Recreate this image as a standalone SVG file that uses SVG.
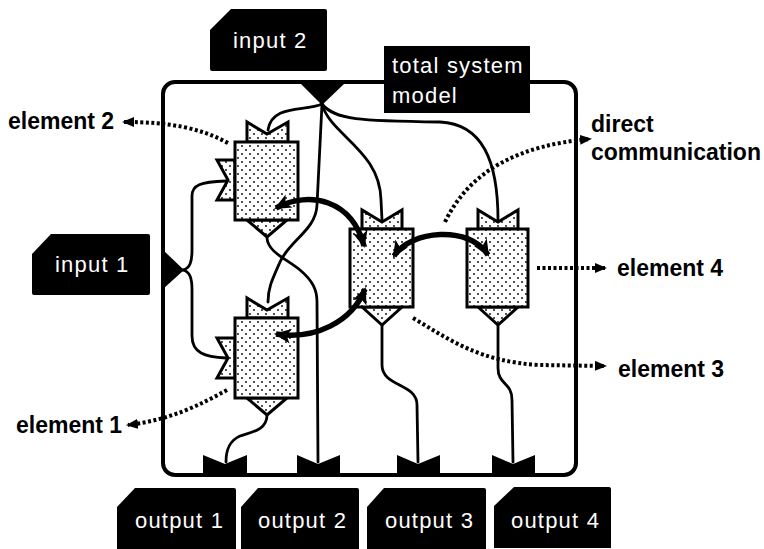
<svg xmlns="http://www.w3.org/2000/svg" width="764" height="549" viewBox="0 0 764 549">
<defs>
  <pattern id="dots" width="8" height="8" patternUnits="userSpaceOnUse">
    <rect width="8" height="8" fill="#fff"/>
    <circle cx="2" cy="2" r="0.9" fill="#000"/>
    <circle cx="6" cy="6" r="0.9" fill="#000"/>
  </pattern>
  <marker id="big" viewBox="0 0 16 14" refX="14" refY="7" markerWidth="17" markerHeight="15" markerUnits="userSpaceOnUse" orient="auto-start-reverse">
    <path d="M0,0 L16,7 L0,14 L4,7 Z" fill="#000"/>
  </marker>
  <marker id="small" viewBox="0 0 12 10" refX="10" refY="5" markerWidth="12" markerHeight="10" markerUnits="userSpaceOnUse" orient="auto">
    <path d="M0,0 L12,5 L0,10 Z" fill="#000"/>
  </marker>
</defs>
<style>
  .wire{fill:none;stroke:#000;stroke-width:2.8;stroke-linecap:round}
  .el{fill:url(#dots);stroke:#000;stroke-width:3;stroke-linejoin:miter}
  .port{fill:#000}
  .comm{fill:none;stroke:#000;stroke-width:5.5;marker-start:url(#big);marker-end:url(#big)}
  .dot{fill:none;stroke:#000;stroke-width:4;stroke-dasharray:3 2.5;marker-end:url(#small)}
  .lab{fill:#000}
  .wt{fill:#fff;font-family:"Liberation Sans",Arial,sans-serif;font-size:22px;letter-spacing:1.2px}
  .bt{fill:#000;font-family:"Liberation Sans",Arial,sans-serif;font-size:23px;font-weight:bold}
</style>

<g id="system">
  <rect x="163" y="82" width="413" height="393" rx="12" fill="none" stroke="#000" stroke-width="4"/>
</g>

<g id="connectors">
  <path class="wire" d="M322,104 C305,112 272,104 268,130"/>
  <path class="wire" d="M322,104 L317,205 C316,230 290,240 280,262 C272,280 268,288 268,302"/>
  <path class="wire" d="M267,238 C268,252 285,258 300,270 C313,281 317,290 317,302 L318,462"/>
  <path class="wire" d="M322,104 C330,135 380,150 381,200 L382,220"/>
  <path class="wire" d="M322,104 C335,120 360,121 440,122 C482,124 498,160 498,220"/>
  <path class="wire" d="M183,270 C190,268 192,262 192,250 L192,196 C192,185 200,182 226,181"/>
  <path class="wire" d="M183,270 C190,272 192,278 192,290 L192,336 C192,353 205,357 226,358"/>
  <path class="wire" d="M267,415 C267,430 252,432 240,436 C229,441 226,450 226,462"/>
  <path class="wire" d="M382,325 L382,365 C382,387 417,383 417,405 L418,462"/>
  <path class="wire" d="M498,325 L498,368 C498,385 512,382 512,400 L513,462"/>
</g>

<g id="input2-port"><path class="port" d="M301,84 L344,84 L322,105 Z"/></g>
<g id="input1-port"><path class="port" d="M163,250 L184,270 L163,289 Z"/></g>
<g id="output-ports">
  <path class="port" d="M203,476 L203,455 L225,464 L247,455 L247,476 Z"/>
  <path class="port" d="M297,476 L297,455 L318,464 L340,455 L340,476 Z"/>
  <path class="port" d="M397,476 L397,455 L418,464 L440,455 L440,476 Z"/>
  <path class="port" d="M492,476 L492,455 L513,464 L535,455 L535,476 Z"/>
</g>

<g id="element2">
  <path class="el" d="M247,142 L247,122 L267,134 L288,122 L288,142 Z"/>
  <path class="el" d="M235,160 L217,160 L228,180 L217,200 L235,200 Z"/>
  <path class="el" d="M247,220 L267,237 L287,220 Z"/>
  <rect class="el" x="235" y="142" width="63" height="78"/>
</g>
<g id="element1">
  <path class="el" d="M247,318 L247,298 L267,310 L288,298 L288,318 Z"/>
  <path class="el" d="M235,338 L217,338 L228,358 L217,378 L235,378 Z"/>
  <path class="el" d="M247,398 L267,415 L287,398 Z"/>
  <rect class="el" x="235" y="318" width="63" height="80"/>
</g>
<g id="element3">
  <path class="el" d="M362,229 L362,210 L382,222 L402,210 L402,229 Z"/>
  <path class="el" d="M362,307 L382,325 L402,307 Z"/>
  <rect class="el" x="350" y="229" width="63" height="78"/>
</g>
<g id="element4">
  <path class="el" d="M478,229 L478,210 L498,222 L518,210 L518,229 Z"/>
  <path class="el" d="M478,307 L498,325 L518,307 Z"/>
  <rect class="el" x="467" y="229" width="61" height="78"/>
</g>

<g id="communication">
  <path class="comm" d="M276,208 C310,190 352,200 364,246"/>
  <path class="comm" d="M276,334 C315,340 352,322 365,289"/>
  <path class="comm" d="M394,256 C410,230 470,225 488,255"/>
</g>

<g id="annotations">
  <path class="dot" d="M228,143 C200,128 170,122 124,122"/>
  <path class="dot" d="M227,390 C200,405 170,420 128,425"/>
  <path class="dot" d="M445,222 C470,170 520,145 590,139"/>
  <path class="dot" d="M537,268 L605,268"/>
  <path class="dot" d="M413,318 C450,340 480,362 540,365 L605,366"/>
</g>

<g id="label-input2">
  <path class="lab" d="M210,30 L231,9 L325,9 Q327,9 327,11 L327,69 Q327,71 325,71 L212,71 Q210,71 210,69 Z"/>
  <text class="wt" x="233" y="48">input 2</text>
</g>
<g id="label-total">
  <rect class="lab" x="384" y="46" width="146" height="67"/>
  <text class="wt" x="392" y="73">total system</text>
  <text class="wt" x="392" y="103">model</text>
</g>
<g id="label-input1">
  <path class="lab" d="M32,254 L51,234 L148,234 Q150,234 150,236 L150,293 Q150,295 148,295 L34,295 Q32,295 32,293 Z"/>
  <text class="wt" x="55" y="272">input 1</text>
</g>
<g id="label-output1">
  <path class="lab" d="M117,507 L135,488 L234,488 Q236,488 236,490 L236,549 L117,549 Z"/>
  <text class="wt" x="135" y="528">output 1</text>
</g>
<g id="label-output2">
  <path class="lab" d="M241,507 L258,488 L357,488 Q359,488 359,490 L359,549 L241,549 Z"/>
  <text class="wt" x="258" y="528">output 2</text>
</g>
<g id="label-output3">
  <path class="lab" d="M367,507 L384,488 L484,488 Q486,488 486,490 L486,549 L367,549 Z"/>
  <text class="wt" x="385" y="528">output 3</text>
</g>
<g id="label-output4">
  <path class="lab" d="M494,506 L514,487 L609,487 Q611,487 611,489 L611,548 L494,548 Z"/>
  <text class="wt" x="511" y="528">output 4</text>
</g>

<g id="texts">
  <text class="bt" x="8" y="129">element 2</text>
  <text class="bt" x="16" y="433">element 1</text>
  <text class="bt" x="591" y="132">direct</text>
  <text class="bt" x="591" y="160">communication</text>
  <text class="bt" x="617" y="276">element 4</text>
  <text class="bt" x="618" y="377">element 3</text>
</g>
</svg>
